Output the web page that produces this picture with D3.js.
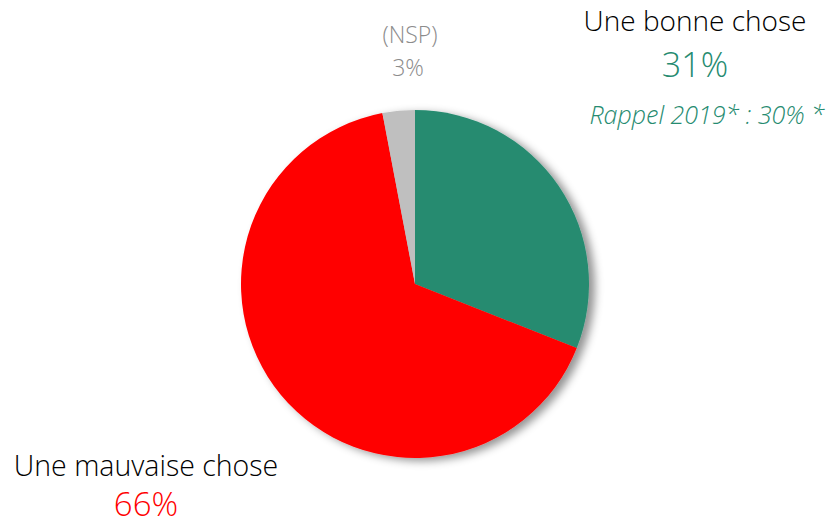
<!DOCTYPE html>
<html>
<head>
<meta charset="utf-8">
<script src="https://cdn.jsdelivr.net/npm/d3@7"></script>
<style>
  body { margin: 0; background: #fff; }
  text { font-family: "Open Sans", "Lato", sans-serif; font-weight: 300; }
</style>
</head>
<body>
<div id="chart"></div>
<script>
// Data
const categories = ['Une bonne chose', 'Une mauvaise chose', '(NSP)']
const values = [31, 66, 3]
const colors = ['#268b70', '#ff0000', '#bfbfbf']
const recallLabel = 'Rappel 2019* : 30% *'

const width = 833
const height = 525
const cx = 415
const cy = 284
const radius = 174

const svg = d3.select('#chart')
    .append('svg')
    .attr('width', width)
    .attr('height', height)

// Soft shadow on the right side of the pie
const defs = svg.append('defs')
const filter = defs.append('filter')
    .attr('id', 'shadow')
    .attr('x', '-20%').attr('y', '-20%')
    .attr('width', '140%').attr('height', '140%')
filter.append('feDropShadow')
    .attr('dx', 6)
    .attr('dy', 3)
    .attr('stdDeviation', 4)
    .attr('flood-color', '#000')
    .attr('flood-opacity', 0.42)

const pie = d3.pie().sort(null).value(d => d)
const arc = d3.arc().innerRadius(0).outerRadius(radius)

const g = svg.append('g')
    .attr('transform', `translate(${cx}, ${cy})`)
    .attr('filter', 'url(#shadow)')

g.selectAll('path')
    .data(pie(values))
    .join('path')
    .attr('d', arc)
    .attr('fill', (d, i) => colors[i])

// Labels
const labels = svg.append('g')

// Une bonne chose
labels.append('text')
    .attr('x', 695).attr('y', 31)
    .attr('text-anchor', 'middle')
    .attr('font-size', 28)
    .attr('fill', '#000')
    .text(categories[0])
labels.append('text')
    .attr('x', 695).attr('y', 77)
    .attr('text-anchor', 'middle')
    .attr('font-size', 34)
    .attr('font-weight', 400)
    .attr('fill', colors[0])
    .text(values[0] + '%')
labels.append('text')
    .attr('x', 707).attr('y', 124)
    .attr('text-anchor', 'middle')
    .attr('font-size', 25)
    .attr('font-style', 'italic')
    .attr('fill', colors[0])
    .text(recallLabel)

// NSP
labels.append('text')
    .attr('x', 410).attr('y', 43)
    .attr('text-anchor', 'middle')
    .attr('font-size', 23)
    .attr('fill', '#8c8c8c')
    .text(categories[2])
labels.append('text')
    .attr('x', 408).attr('y', 76)
    .attr('text-anchor', 'middle')
    .attr('font-size', 23)
    .attr('fill', '#8c8c8c')
    .text(values[2] + '%')

// Une mauvaise chose
labels.append('text')
    .attr('x', 146).attr('y', 476)
    .attr('text-anchor', 'middle')
    .attr('font-size', 28.5)
    .attr('fill', '#000')
    .text(categories[1])
labels.append('text')
    .attr('x', 146).attr('y', 516)
    .attr('text-anchor', 'middle')
    .attr('font-size', 33)
    .attr('font-weight', 400)
    .attr('fill', colors[1])
    .text(values[1] + '%')
</script>
</body>
</html>
